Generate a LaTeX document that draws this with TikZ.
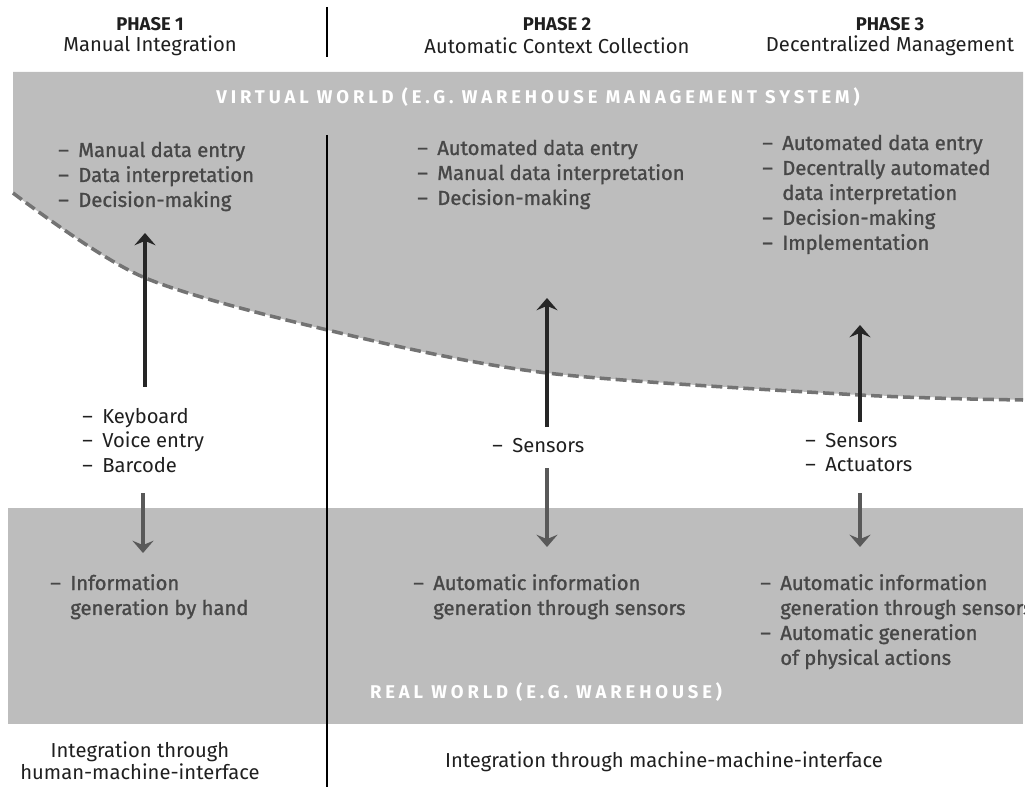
\documentclass[tikz,border=0pt]{standalone}
\usepackage{fontspec}
\setmainfont{Fira Sans}
\newfontfamily\trackfont[LetterSpace=21]{Fira Sans}
\newfontfamily\shadefont[FakeBold=1.2]{Fira Sans}
\usetikzlibrary{arrows.meta}
\pgfdeclarelayer{bg}
\pgfsetlayers{bg,main}
\definecolor{worldgray}{gray}{0.74}
\definecolor{edgegray}{gray}{0.45}
\definecolor{ingray}{gray}{0.28}
\definecolor{outgray}{gray}{0.12}
\newcommand{\itemtab}[1]{\begin{tabular}[t]{@{}p{0.4cm}@{}l@{}}#1\end{tabular}}
\newcommand{\dsh}{\textendash}

\begin{document}
\begin{tikzpicture}[x=0.02cm, y=-0.02cm,
    phase/.style={font=\bfseries\fontsize{10.5}{12}\selectfont, text=outgray, inner sep=0pt},
    subtitle/.style={font=\fontsize{11.5}{12.5}\selectfont, text=outgray, inner sep=0pt},
    inlist/.style={anchor=base west, inner sep=0pt, text=ingray, font=\shadefont\fontsize{11.5}{14.2}\selectfont},
    outlist/.style={anchor=base west, inner sep=0pt, text=outgray, font=\fontsize{11.5}{14.2}\selectfont},
    world/.style={font=\trackfont\bfseries\fontsize{10.5}{12}\selectfont, text=white, inner sep=0pt},
    uparrow/.style={-{Stealth[length=7pt,width=12pt,inset=2.5pt]}, line width=2.2pt, draw=black!85},
    downarrow/.style={uparrow, draw=black!65},
    divider/.style={line width=0.7pt}]
    \clip (0,0) rectangle (1025,787);

    % headers
    \node [phase] (ph1) at (150,24) {PHASE 1};
    \node [subtitle] (sub1) at (150,46) {Manual Integration};
    \node [phase] (ph2) at (557,24) {PHASE 2};
    \node [subtitle] (sub2) at (557,46) {Automatic Context Collection};
    \node [phase] (ph3) at (890,24) {PHASE 3};
    \node [subtitle] (sub3) at (890,46) {Decentralized Management};

    \begin{pgfonlayer}{bg}    % the two worlds
        \fill [worldgray] (13,72) -- (1023,72) -- (1023,400)
            -- plot [smooth] coordinates {(860,395) (547,373) (340,333) (143,277) (13,193)} -- cycle;
        \fill [worldgray] (8,508) rectangle (1023,724);
    \end{pgfonlayer}
    \draw [edgegray, line width=2pt, dash pattern=on 0.22cm off 0.1cm]
        plot [smooth] coordinates {(13,193) (143,277) (340,333) (547,373) (860,395) (1023,400)};

    \node [world] (virtual) at (538,97) {VIRTUAL WORLD (E.G. WAREHOUSE MANAGEMENT SYSTEM)};
    \node [world] (real) at (546,692) {REAL WORLD (E.G. WAREHOUSE)};

    \node [inlist] (v1) at (58,157) {\itemtab{\dsh & Manual data entry\\ \dsh & Data interpretation\\ \dsh & Decision-making}};
    \node [inlist] (v2) at (417,155) {\itemtab{\dsh & Automated data entry\\ \dsh & Manual data interpretation\\ \dsh & Decision-making}};
    \node [inlist] (v3) at (762,150) {\itemtab{\dsh & Automated data entry\\ \dsh & Decentrally automated\\ & data interpretation\\ \dsh & Decision-making\\ \dsh & Implementation}};

    \node [outlist] (m1) at (82,423) {\itemtab{\dsh & Keyboard\\ \dsh & Voice entry\\ \dsh & Barcode}};
    \node [outlist] (m2) at (492,452) {\itemtab{\dsh & Sensors}};
    \node [outlist] (m3) at (805,447) {\itemtab{\dsh & Sensors\\ \dsh & Actuators}};

    \node [inlist] (r1) at (50,590) {\itemtab{\dsh & Information\\ & generation by hand}};
    \node [inlist] (r2) at (413,590) {\itemtab{\dsh & Automatic information\\ & generation through sensors}};
    \node [inlist] (r3) at (760,590) {\itemtab{\dsh & Automatic information\\ & generation through sensors\\ \dsh & Automatic generation\\ & of physical actions}};

    \node [subtitle, align=center] (hmi) at (140,761) {Integration through\\human-machine-interface};
    \node [subtitle] (mmi) at (664,762) {Integration through machine-machine-interface};

    \coordinate (a1s) at (145,387);  \coordinate (a1e) at (145,233);
    \coordinate (b1s) at (143,493);  \coordinate (b1e) at (143,553);
    \coordinate (a2s) at (547,427);  \coordinate (a2e) at (547,298);
    \coordinate (b2s) at (547,468);  \coordinate (b2e) at (547,547);
    \coordinate (a3s) at (860,422);  \coordinate (a3e) at (860,325);
    \coordinate (b3s) at (860,493);  \coordinate (b3e) at (860,547);
    \draw [uparrow] (a1s) -- (a1e);
    \draw [downarrow] (b1s) -- (b1e);
    \draw [uparrow] (a2s) -- (a2e);
    \draw [downarrow] (b2s) -- (b2e);
    \draw [uparrow] (a3s) -- (a3e);
    \draw [downarrow] (b3s) -- (b3e);

    \coordinate (d1) at (327,7);   \coordinate (d2) at (327,57);
    \coordinate (d3) at (327,135); \coordinate (d4) at (327,787);
    \draw [divider] (d1) -- (d2);
    \draw [divider] (d3) -- (d4);
\end{tikzpicture}
\end{document}
